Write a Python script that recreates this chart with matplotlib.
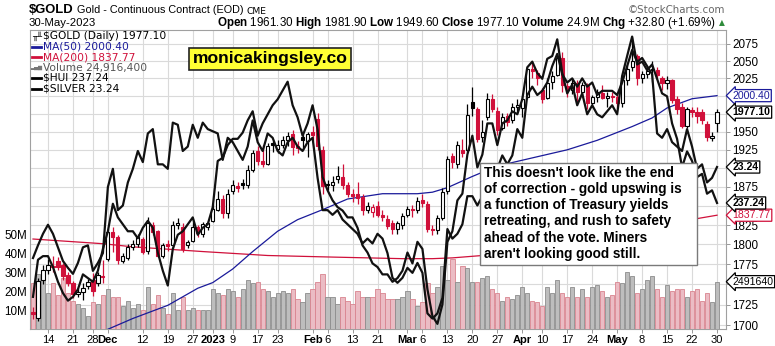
import matplotlib
import numpy as np
import pandas as pd

matplotlib.use("Agg")
import matplotlib.pyplot as plt
from matplotlib.lines import Line2D
from matplotlib.patches import Rectangle
from matplotlib.ticker import NullLocator
from matplotlib.transforms import blended_transform_factory

plt.rcParams["font.family"] = ["Liberation Sans", "DejaVu Sans"]
plt.rcParams["mathtext.fontset"] = "custom"
plt.rcParams["mathtext.rm"] = "Liberation Sans"
plt.rcParams["mathtext.bf"] = "Liberation Sans:bold"

# ---- data -------------------------------------------------------------
HOLIDAYS = ["2022-11-24", "2022-12-26", "2023-01-02", "2023-01-16",
            "2023-02-20", "2023-04-07", "2023-05-29"]
dates = pd.bdate_range("2022-11-09", "2023-05-30")
dates = dates[~dates.isin(pd.to_datetime(HOLIDAYS))]

PREV_CLOSE = 1716.5  # close of 8-Nov-2022

opens = [1716, 1709, 1755, 1768, 1773, 1779, 1774, 1761, 1751, 1738, 1740, 1748, 1755, 1752, 1760,
         1782, 1816, 1809, 1779, 1783, 1797, 1800, 1807, 1792, 1825, 1817, 1786, 1800, 1799, 1825,
         1823, 1799, 1805, 1822, 1814, 1823,
         1830, 1844, 1859, 1840, 1870, 1876, 1880, 1877, 1898, 1923, 1910, 1906, 1934, 1926, 1932,
         1938, 1947, 1930, 1943, 1937, 1949, 1967, 1925,
         1879, 1877, 1885, 1888, 1877, 1866, 1865, 1862, 1845, 1842, 1850, 1838, 1833, 1828, 1820, 1825,
         1838, 1846, 1845, 1858, 1853, 1820, 1818, 1834, 1870, 1916, 1906, 1925, 1925, 1992, 1981,
         1942, 1970, 1996, 1979, 1955, 1972, 1966, 1985,
         1983, 1998, 2038, 2033, 2008, 1997, 2020, 2030, 2055, 2014, 2008, 2018, 2006, 2014, 1990,
         1998, 2004, 1997, 2000,
         1999, 1990, 2023, 2042, 2057, 2025, 2031, 2037, 2037, 2025, 2018, 2022, 1995, 1985, 1958,
         1980, 1978, 1978, 1960, 1941, 1961.3]
highs = [1722, 1758, 1774, 1782, 1786, 1784, 1777, 1765, 1754, 1745, 1752, 1757, 1764, 1765, 1780,
         1820, 1822, 1812, 1789, 1800, 1806, 1813, 1809, 1836, 1829, 1819, 1802, 1806, 1830, 1834,
         1827, 1806, 1833, 1825, 1829, 1830,
         1852, 1870, 1864, 1872, 1884, 1882, 1886, 1904, 1925, 1930, 1931, 1935, 1937, 1938, 1944,
         1950, 1952, 1937, 1947, 1950, 1958, 1976, 1930,
         1884, 1890, 1903, 1906, 1882, 1872, 1882, 1865, 1855, 1853, 1857, 1845, 1838, 1832, 1830, 1840,
         1850, 1851, 1862, 1866, 1856, 1825, 1838, 1874, 1916, 1920, 1937, 1940, 1989, 2012, 1984,
         1966, 2004, 2003, 1985, 1976, 1976, 1990, 1995,
         2000, 2040, 2048, 2037, 2011, 2025, 2035, 2058, 2063, 2018, 2025, 2022, 2020, 2018, 2002,
         2010, 2015, 2005, 2005,
         2005, 2025, 2045, 2085, 2061, 2035, 2043, 2050, 2041, 2028, 2028, 2024, 2000, 1990, 1984,
         1985, 1985, 1982, 1965, 1950, 1981.9]
lows = [1707, 1705, 1750, 1763, 1765, 1768, 1755, 1748, 1733, 1734, 1730, 1744, 1735, 1748, 1752,
        1779, 1790, 1775, 1776, 1780, 1793, 1797, 1788, 1788, 1812, 1784, 1783, 1792, 1796, 1820,
        1790, 1795, 1803, 1810, 1810, 1818,
        1829, 1843, 1834, 1834, 1866, 1868, 1872, 1873, 1895, 1905, 1902, 1904, 1922, 1920, 1928,
        1930, 1918, 1921, 1925, 1915, 1937, 1925, 1865,
        1871, 1870, 1880, 1872, 1862, 1855, 1853, 1838, 1840, 1836, 1835, 1830, 1820, 1814, 1813, 1820,
        1835, 1836, 1840, 1849, 1816, 1812, 1814, 1831, 1865, 1900, 1900, 1915, 1922, 1972, 1936,
        1936, 1966, 1978, 1946, 1952, 1958, 1962, 1975,
        1970, 1995, 2026, 2016, 1990, 1995, 2010, 2028, 2005, 1999, 2003, 1990, 2000, 1982, 1985,
        1992, 1995, 1985, 1992,
        1983, 1985, 2015, 2036, 2016, 2018, 2025, 2020, 2025, 2008, 2010, 1990, 1975, 1955, 1955,
        1970, 1962, 1960, 1937, 1937, 1949.6]
closes = [1713, 1754, 1768, 1774, 1772, 1771, 1760, 1752, 1738, 1740, 1745, 1753, 1741, 1762, 1759,
          1816, 1809, 1780, 1785, 1797, 1801, 1810, 1791, 1828, 1816, 1786, 1799, 1798, 1825, 1828,
          1794, 1803, 1823, 1815, 1826, 1827,
          1846, 1859, 1840, 1866, 1877, 1874, 1877, 1898, 1921, 1910, 1906, 1930, 1931, 1932, 1938,
          1944, 1929, 1928, 1939, 1947, 1945, 1930, 1876,
          1877, 1882, 1889, 1877, 1865, 1863, 1860, 1845, 1850, 1848, 1838, 1836, 1824, 1820, 1827, 1837,
          1846, 1845, 1856, 1854, 1820, 1818, 1834, 1868, 1913, 1908, 1931, 1921, 1973, 1983, 1940,
          1949, 1996, 1982, 1952, 1970, 1964, 1984, 1987,
          1996, 2038, 2035, 2025, 1996, 2019, 2029, 2055, 2015, 2009, 2019, 2006, 2015, 1990, 1998,
          2005, 1997, 2000, 1999,
          1990, 2023, 2038, 2050, 2025, 2031, 2035, 2037, 2030, 2019, 2022, 1994, 1982, 1958, 1981,
          1978, 1972, 1966, 1943, 1944.3, 1977.1]
volume_m = [24, 29, 27, 19, 24, 18, 27, 19, 15, 13, 11, 7, 14, 13, 18,
            21, 17, 17, 12, 15, 11, 13, 10, 22, 13, 18, 11, 8, 19, 10, 17, 10, 11, 10, 10, 10,
            21, 19, 18, 21, 20, 17, 21, 26, 24, 25, 21, 20, 17, 19, 20, 19, 21, 16, 14, 19, 21, 25, 29,
            17, 17, 13, 17, 15, 13, 20, 17, 17, 17, 21, 19, 16, 16, 16, 17,
            20, 16, 12, 14, 24, 19, 22, 33, 26, 37, 25, 33, 32, 25, 25, 27, 28, 21, 19, 15, 17, 16, 18,
            22, 19, 15, 14, 12, 22, 19, 26, 19, 17, 22, 17, 21, 17, 22, 23, 20, 17, 18,
            25, 24, 30, 28, 19, 21, 26, 28, 21, 17, 23, 20, 21, 21, 17, 20, 21, 15, 19, 14, 24.9164]
silver = [21.3, 21.56, 21.8, 21.99, 21.8, 21.52, 21.24, 21.1, 20.98, 21.2, 21.52, 21.56, 21.04, 21.2, 21.4,
          22.8, 23.2, 22.3, 22.4, 22.9, 23.2, 23.6, 23.35, 24.0, 24.1, 23.3, 23.3, 23.2, 24.25, 24.2,
          23.6, 23.7, 24.2, 23.9, 24.25, 24.1,
          24.05, 24.0, 23.4, 23.9, 23.8, 23.6, 23.4, 23.7, 24.3, 23.8, 23.6, 24.0, 23.9, 23.6, 23.5,
          23.8, 23.9, 23.7, 23.6, 23.8, 23.9, 23.0, 22.3,
          22.3, 22.2, 22.3, 22.1, 22.0, 21.9, 21.8, 21.6, 21.7, 21.6, 21.8, 21.7, 21.4, 20.9, 20.8, 20.9,
          21.1, 21.0, 21.2, 21.0, 20.2, 20.1, 20.2, 20.5, 21.9, 21.7, 21.8, 22.0, 22.6, 22.6, 22.4,
          22.6, 23.2, 23.0, 23.2, 23.5, 23.3, 23.5, 24.1,
          23.9, 24.9, 25.1, 24.9, 25.0, 25.2, 25.6, 25.9, 25.4, 25.2, 25.3, 25.1, 25.3, 25.1, 25.2,
          24.9, 25.0, 25.0, 25.0,
          24.9, 25.2, 25.6, 26.0, 25.7, 25.8, 25.6, 25.4, 24.0, 23.9, 24.1, 23.8, 23.7, 23.6, 24.1,
          23.7, 23.2, 23.3, 22.9, 23.0, 23.24]
hui = [211, 221, 222, 222, 219, 215, 212, 210, 211, 213, 217, 216, 215, 218, 224,
       229, 237, 233, 231, 229, 229, 227, 230, 232, 230, 223, 218, 214, 224, 228, 229, 231, 233,
       228, 230, 231,
       236, 250, 251, 255, 257, 257, 259, 263, 266, 258, 262, 265, 268, 270, 273, 276, 268, 264,
       258, 262, 268, 260, 245,
       241, 238, 236, 235, 233, 233, 230, 225, 223, 220, 219, 217, 217, 215, 216, 218,
       223, 220, 226, 224, 213, 206, 204, 209, 226, 229, 238, 240, 252, 258, 248, 252, 262, 262,
       255, 262, 263, 266, 265,
       270, 281, 283, 279, 277, 284, 285, 291, 279, 272, 275, 268, 272, 265, 268, 265, 264, 266, 268,
       265, 278, 285, 292, 282, 283, 280, 282, 277, 272, 271, 262, 257, 248, 253, 250, 245, 246,
       240, 241, 237.24]

ma50_day = [15, 20, 27, 33, 36, 40, 44, 49, 53, 58, 63, 66, 70, 77, 80, 83, 88, 93, 100, 107,
            113, 120, 124, 127, 132, 137]
ma50_val = [1695, 1708, 1724, 1745, 1752, 1769, 1791, 1817, 1832, 1845, 1859, 1862, 1866, 1866,
            1868, 1874, 1889, 1903, 1914, 1925, 1938, 1957, 1969, 1983, 1996, 2000.4]
ma200_day = [0, 14, 20, 34, 47, 60, 74, 80, 84, 90, 100, 110, 120, 130, 137]
ma200_val = [1807, 1801, 1797, 1791, 1786, 1784, 1782, 1782, 1783, 1786, 1794, 1806, 1818, 1830,
             1837.77]

tick_days = ["2022-11-14", "2022-11-21", "2022-11-28", "2022-12-01", "2022-12-12", "2022-12-19",
             "2022-12-27", "2023-01-03", "2023-01-09", "2023-01-17", "2023-01-23", "2023-02-01",
             "2023-02-06", "2023-02-13", "2023-02-21", "2023-03-01", "2023-03-06", "2023-03-13",
             "2023-03-20", "2023-03-27", "2023-04-03", "2023-04-10", "2023-04-17", "2023-04-24",
             "2023-05-01", "2023-05-08", "2023-05-15", "2023-05-22", "2023-05-30"]
tick_text = ["14", "21", "28", "Dec", "12", "19", "27", "2023", "9", "17", "23", "Feb", "6", "13",
             "21", "Mar", "6", "13", "20", "27", "Apr", "10", "17", "24", "May", "8", "15", "22", "30"]
price_ticks = list(range(1700, 2076, 25))
hidden_price_labels = [2000, 1975, 1900, 1850, 1750]  # sit under the value tags
volume_ticks = [10, 20, 30, 40, 50]

note_lines = ["This doesn't look like the end", "of correction - gold upswing is",
              "a function of Treasury yields", "retreating, and rush to safety",
              "ahead of the vote. Miners", "aren't looking good still."]

# ---- style ------------------------------------------------------------
RED = "#D0103A"
NAVY = "#1A1A9A"
PINK, PINK_EDGE = "#EBBCC4", "#D9848F"
GRAY, GRAY_EDGE = "#BDBDBD", "#8C8C8C"
PRICE_LIM = (1695.3, 2095.7)
SILVER_LIM = (19.9, 26.5)
HUI_LIM = (202.7, 294.4)

W, H = 775, 346


def fx(x):
    return x / W


def fy(y):
    return 1 - y / H


fig = plt.figure(figsize=(W / 100, H / 100), dpi=100)
ax = fig.add_axes([fx(30), fy(329), (726 - 30) / W, (329 - 30) / H])
ax_vol = ax.twinx()
ax_p = ax.twinx()
ax_s = ax.twinx()
ax_h = ax.twinx()

n = len(closes)
x = np.arange(n)
o, hi, lo, c = (np.array(v, dtype=float) for v in (opens, highs, lows, closes))
prev = np.concatenate([[PREV_CLOSE], c[:-1]])
down = c < prev
col = np.where(down, RED, "black")
hollow = c > o

# grid / main axis
ax.set_xlim(-0.6, 138.8)
ax.set_yscale("log")
ax.set_ylim(*PRICE_LIM)
ax.set_yticks(price_ticks)
ax.set_yticklabels(["" if t in hidden_price_labels else str(t) for t in price_ticks])
ax.yaxis.set_minor_locator(NullLocator())
ax.yaxis.tick_right()
tpos = [dates.get_loc(pd.Timestamp(d)) for d in tick_days]
ax.set_xticks(tpos)
ax.set_xticklabels(tick_text)
for lab, txt in zip(ax.get_xticklabels(), tick_text):
    if not txt.isdigit() or txt == "2023":
        lab.set_fontweight("bold")
ax.tick_params(axis="both", labelsize=8.4, length=3, width=0.6, color="#888888", pad=1.5)
ax.tick_params(axis="x", labelsize=8.0)
ax.grid(True, color="#DADADA", lw=0.8)
ax.set_axisbelow(True)
for sp in ax.spines.values():
    sp.set_color("#A0A0A0")
    sp.set_linewidth(0.8)

# volume
ax_vol.bar(x, volume_m, width=0.85, color=np.where(down, PINK, GRAY),
           edgecolor=np.where(down, PINK_EDGE, GRAY_EDGE), linewidth=0.6)
ax_vol.set_ylim(0, 157.4)
ax_vol.yaxis.tick_left()
ax_vol.set_yticks(volume_ticks)
ax_vol.set_yticklabels([f"{v}M" for v in volume_ticks])
ax_vol.tick_params(axis="y", labelsize=8.4, length=0, pad=2)
for sp in ax_vol.spines.values():
    sp.set_visible(False)

# candles + moving averages
ax_p.set_yscale("log")
ax_p.set_ylim(*PRICE_LIM)
ax_p.set_axis_off()
ax_p.plot(ma200_day, ma200_val, color=RED, lw=0.9, zorder=2)
ax_p.plot(ma50_day, ma50_val, color=NAVY, lw=0.9, zorder=2)
ax_p.vlines(x, lo, hi, colors=col, lw=0.9, zorder=3)
ax_p.bar(x, np.maximum(np.abs(c - o), 0.9), bottom=np.minimum(o, c), width=0.64,
         color=np.where(hollow, "white", col), edgecolor=col, linewidth=0.8, zorder=4)

# overlays
ax_s.set_yscale("log")
ax_s.set_ylim(*SILVER_LIM)
ax_s.set_axis_off()
ax_s.plot(x, silver, color="#111111", lw=1.6)
ax_h.set_yscale("log")
ax_h.set_ylim(*HUI_LIM)
ax_h.set_axis_off()
ax_h.plot(x, hui, color="#111111", lw=1.6)


def tag(axis, value, text, color, bold=False):
    tr = blended_transform_factory(axis.transAxes, axis.transData)
    axis.text(1.0095, value, text, transform=tr, ha="left", va="center", fontsize=7.6,
              color=color, fontweight="bold" if bold else "normal", clip_on=False, zorder=8,
              bbox=dict(boxstyle="larrow,pad=0.1", fc="white", ec=color, lw=0.9))


tag(ax_p, ma50_val[-1], "2000.40", NAVY)
tag(ax_p, closes[-1], "1977.10", "black", bold=True)
tag(ax_s, silver[-1], "23.24", "black", bold=True)
tag(ax_h, hui[-1], "237.24", "black", bold=True)
tag(ax_p, ma200_val[-1], "1837.77", RED)
tag(ax_vol, volume_m[-1], "2491640", "black")

# header
fig.text(fx(29), fy(10), r"\$GOLD", fontsize=9.4, fontweight="bold", va="center")
fig.text(fx(77), fy(10), "Gold - Continuous Contract (EOD)", fontsize=7.8, va="center")
fig.text(fx(246), fy(11), "CME", fontsize=6.6, va="center", family="DejaVu Sans")
fig.text(fx(29), fy(23), "30-May-2023", fontsize=8.2, va="center")
fig.text(fx(725), fy(10), "\u00a9StockCharts.com", fontsize=7.4, va="center", ha="right",
         color="#666666", family="DejaVu Sans")
hdr = (r"$\mathbf{Open}$ 1961.30 $\mathbf{High}$ 1981.90 $\mathbf{Low}$ 1949.60 "
       r"$\mathbf{Close}$ 1977.10 $\mathbf{Volume}$ 24.9M $\mathbf{Chg}$ +32.80 (+1.69%)")
fig.text(fx(716), fy(23), hdr, fontsize=8.4, va="center", ha="right")
fig.text(fx(722), fy(23), "\u25b2", fontsize=5.5, va="center", ha="center", color="#2E8B3A",
         family="DejaVu Sans")

# legend inside the chart
legend = [("\\$GOLD (Daily) 1977.10", "black", None),
          ("MA(50) 2000.40", NAVY, NAVY),
          ("MA(200) 1837.77", RED, RED),
          ("Volume 24,916,400", "#555555", None),
          ("\\$HUI 237.24", "black", "black"),
          ("\\$SILVER 23.24", "black", "black")]
for k, (txt, colr, dash) in enumerate(legend):
    yy = 36 + 10.5 * k
    fig.text(fx(43), fy(yy), txt, fontsize=7.7, color=colr, va="center", family="DejaVu Sans",
             zorder=12)
    if dash is not None:
        fig.add_artist(Line2D([fx(32), fx(41)], [fy(yy), fy(yy)], color=dash, lw=2, zorder=12))
fig.text(fx(37), fy(36), "\u2565\u2568", fontsize=6, va="center", ha="center",
         family="DejaVu Sans", zorder=12)
fig.text(fx(36.5), fy(67.5), "\u2583\u2585\u2587", fontsize=3.8, va="center", ha="center",
         color="#777777", family="DejaVu Sans", zorder=12)

# watermark
fig.text(fx(270), fy(59), "monicakingsley.co", fontsize=12.6, fontweight="bold", ha="center",
         va="center", zorder=12,
         bbox=dict(boxstyle="square,pad=0.22", fc="#FFFF33", ec="#222222", lw=1.2))

# note box
fig.add_artist(Rectangle((fx(480), fy(265)), 217 / W, 102 / H, transform=fig.transFigure,
                         fc="white", ec="#7A7A7A", lw=1, zorder=11))
for k, line in enumerate(note_lines):
    fig.text(fx(484), fy(172.5 + 16.3 * k), line, fontsize=9.8, fontweight="bold",
             va="center", zorder=12)

fig.savefig("out.png", dpi=100)
